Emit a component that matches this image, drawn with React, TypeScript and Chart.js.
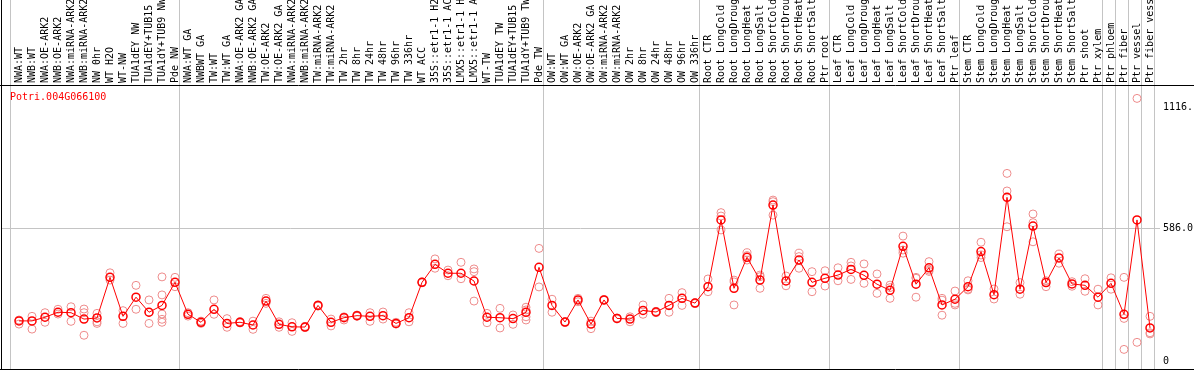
import React, { useEffect, useRef } from 'react';
import { Chart, registerables } from 'chart.js';

Chart.register(...registerables);

const geneId = 'Potri.004G066100';

const categories: string[] = [
  'NWA:WT', 'NWB:WT', 'NWA:OE-ARK2', 'NWB:OE-ARK2', 'NWA:miRNA-ARK2', 'NWB:miRNA-ARK2',
  'NW 0hr', 'WT H2O', 'WT-NW', 'TUA1dEY NW', 'TUA1dEY+TUB15 NW', 'TUA1dY+TUB9 NW', 'Pde NW',
  'NWA:WT GA', 'NWBWT GA', 'TW:WT', 'TW:WT GA', 'NWA:OE-ARK2 GA', 'NWB:OE-ARK2 GA',
  'TW:OE-ARK2', 'TW:OE-ARK2 GA', 'NWA:miRNA-ARK2 GA', 'NWB:miRNA-ARK2 GA', 'TW:miRNA-ARK2',
  'TW:miRNA-ARK2 GA', 'TW 2hr', 'TW 8hr', 'TW 24hr', 'TW 48hr', 'TW 96hr', 'TW 336hr', 'WT ACC',
  '35S::etr1-1 H2O', '35S::etr1-1 ACC', 'LMX5::etr1-1 H2O', 'LMX5::etr1-1 ACC', 'WT-TW',
  'TUA1dEY TW', 'TUA1dEY+TUB15 TW', 'TUA1dY+TUB9 TW', 'Pde TW',
  'OW:WT', 'OW:WT GA', 'OW:OE-ARK2', 'OW:OE-ARK2 GA', 'OW:miRNA-ARK2', 'OW:miRNA-ARK2 GA',
  'OW 2hr', 'OW 8hr', 'OW 24hr', 'OW 48hr', 'OW 96hr', 'OW 336hr',
  'Root CTR', 'Root LongCold', 'Root LongDrought', 'Root LongHeat', 'Root LongSalt',
  'Root ShortCold', 'Root ShortDrought', 'Root ShortHeat', 'Root ShortSalt', 'Ptr root',
  'Leaf CTR', 'Leaf LongCold', 'Leaf LongDrought', 'Leaf LongHeat', 'Leaf LongSalt',
  'Leaf ShortCold', 'Leaf ShortDrought', 'Leaf ShortHeat', 'Leaf ShortSalt', 'Ptr leaf',
  'Stem CTR', 'Stem LongCold', 'Stem LongDrought', 'Stem LongHeat', 'Stem LongSalt',
  'Stem ShortCold', 'Stem ShortDrought', 'Stem ShortHeat', 'Stem ShortSalt', 'Ptr shoot',
  'Ptr xylem', 'Ptr phloem', 'Ptr fiber', 'Ptr vessel', 'Ptr fiber vessel',
];

const meanValues: number[] = [
  179, 179, 195, 217, 215, 187, 192, 370, 199, 283, 217, 247, 348,
  208, 173, 230, 168, 173, 161, 266, 164, 153, 152, 247, 173, 193, 202, 199, 202, 168, 193, 348,
  427, 388, 388, 354, 195, 193, 189, 217, 414,
  247, 174, 271, 165, 271, 190, 187, 225, 218, 247, 278, 257,
  329, 622, 322, 458, 358, 687, 354, 446, 348, 366,
  380, 405, 379, 340, 313, 506, 340, 412, 249, 274,
  329, 483, 294, 721, 318, 595, 347, 455, 341, 335, 283,
  344, 208, 622, 148,
];

const replicateValues: number[][] = [
  [183, 165], [199, 143], [215, 173], [230, 209], [241, 177], [231, 215, 116], [212, 175, 168],
  [390, 358], [224, 168], [335, 230], [271, 168, 217], [372, 293, 209, 186, 173], [370, 329],
  [215, 200], [178, 168], [271, 208], [189, 151], [176, 170], [178, 142], [278, 256], [175, 151],
  [171, 133], [155, 150], [250, 244], [187, 157], [197, 183], [205, 199], [215, 177], [218, 187],
  [173, 165], [215, 175], [350, 346], [451, 410], [402, 377], [436, 364], [407, 395, 266],
  [212, 171], [234, 148], [205, 164], [239, 227, 197, 183], [497, 328],
  [274, 217], [176, 172], [278, 263], [178, 145], [273, 269], [192, 188], [197, 175], [249, 208],
  [221, 215], [278, 217], [303, 247], [259, 255],
  [363, 307], [654, 639, 578], [358, 350, 249], [478, 465, 446], [380, 373, 322], [709, 702, 643],
  [376, 333], [476, 461, 410], [395, 307], [399, 332],
  [412, 355], [436, 420, 361], [429, 344], [385, 300], [336, 325, 278], [551, 490, 476],
  [370, 366, 283], [439, 402, 396], [278, 270, 204], [310, 256, 249],
  [355, 315, 318], [524, 468, 457], [319, 275], [826, 749, 592], [347, 296], [648, 610, 526],
  [355, 329], [472, 432], [351, 331], [364, 309], [318, 249],
  [368, 318], [370, 190, 54], [1155, 85], [199, 127, 122],
];

// category indices where a vertical group separator is drawn (before that category)
const groupBoundaries: number[] = [0, 13, 41, 53, 63, 73, 84, 85, 86, 87, 88];

const yTickValues: number[] = [0, 586, 1116];
const yTickLabels: string[] = ['0', '586.0', '1116.'];

const MONO = '"DejaVu Sans Mono", "Liberation Mono", monospace';
const GRID = '#c4c4c4';
const BOUNDARY_SHIFT = 0.638;

const framePlugin = {
  id: 'frame',
  beforeDatasetsDraw(chart: any) {
    const { ctx, chartArea, width } = chart;
    ctx.save();
    ctx.strokeStyle = '#000';
    ctx.lineWidth = 1;
    ctx.beginPath();
    ctx.moveTo(0, chartArea.top + 0.5);
    ctx.lineTo(width, chartArea.top + 0.5);
    ctx.moveTo(0, chartArea.bottom + 0.5);
    ctx.lineTo(width, chartArea.bottom + 0.5);
    ctx.moveTo(chartArea.left + 0.5, 0);
    ctx.lineTo(chartArea.left + 0.5, chartArea.bottom);
    ctx.stroke();
    ctx.fillStyle = '#ff0000';
    ctx.font = '10px ' + MONO;
    ctx.textBaseline = 'middle';
    ctx.textAlign = 'left';
    ctx.fillText(geneId, chartArea.left + 9, chartArea.top + 12);
    ctx.restore();
  },
};

export default function App() {
  const canvasRef = useRef<HTMLCanvasElement | null>(null);

  useEffect(() => {
    document.body.style.margin = '0';
    const canvas = canvasRef.current;
    if (!canvas) return;

    const meanPoints = meanValues.map((v, i) => ({ x: i, y: v }));
    const repPoints: { x: number; y: number }[] = [];
    replicateValues.forEach((reps, i) => reps.forEach((v) => repPoints.push({ x: i, y: v })));

    const isBoundary = (val: number) => !Number.isInteger(val);
    const gridColor = (ctx: any) => (ctx.tick && isBoundary(ctx.tick.value) ? GRID : 'rgba(0,0,0,0)');

    const chart = new Chart(canvas, {
      type: 'line',
      data: {
        datasets: [
          {
            label: 'mean',
            data: meanPoints,
            borderColor: '#ff0000',
            borderWidth: 1,
            pointRadius: 4,
            pointBorderWidth: 1.5,
            pointBorderColor: '#ff0000',
            pointBackgroundColor: 'rgba(0,0,0,0)',
            tension: 0,
            fill: false,
            clip: false,
          },
          {
            label: 'replicates',
            data: repPoints,
            showLine: false,
            pointRadius: 4,
            pointBorderWidth: 1,
            pointBorderColor: 'rgb(238,140,140)',
            pointBackgroundColor: 'rgba(0,0,0,0)',
            clip: false,
          },
        ],
      },
      options: {
        animation: false,
        responsive: false,
        devicePixelRatio: 1,
        layout: { autoPadding: false, padding: { left: 1, right: 0, top: 0, bottom: 1 } },
        plugins: { legend: { display: false }, tooltip: { enabled: false }, title: { display: false } },
        events: [],
        scales: {
          x: {
            type: 'linear',
            position: 'top',
            min: -18 / 13,
            max: 1141 / 13,
            afterBuildTicks: (scale: any) => {
              const t = categories.map((_, i) => ({ value: i }));
              groupBoundaries.forEach((b) => t.push({ value: b - BOUNDARY_SHIFT }));
              t.sort((a, b) => a.value - b.value);
              scale.ticks = t;
            },
            afterFit: (scale: any) => {
              scale.height = 85;
              scale.paddingLeft = 0;
              scale.paddingRight = 0;
              scale.paddingTop = 0;
              scale.paddingBottom = 0;
            },
            ticks: {
              autoSkip: false,
              minRotation: 90,
              maxRotation: 90,
              padding: -83,
              labelOffset: 12,
              color: '#000',
              font: { family: MONO, size: 10 },
              callback: (_v: any, index: number, ticks: any[]) => {
                const val = ticks[index].value;
                return Number.isInteger(val) ? categories[val] : '';
              },
            },
            grid: {
              color: gridColor,
              tickColor: gridColor,
              drawTicks: true,
              tickLength: 85,
              lineWidth: 1,
            },
            border: { display: false },
          },
          y: {
            type: 'linear',
            position: 'right',
            min: -32,
            max: 1213.8,
            afterBuildTicks: (scale: any) => {
              scale.ticks = yTickValues.map((v) => ({ value: v }));
            },
            afterFit: (scale: any) => {
              scale.width = 34;
              scale.paddingTop = 0;
              scale.paddingBottom = 0;
            },
            ticks: {
              padding: 3,
              color: '#000',
              font: { family: MONO, size: 10 },
              callback: (_v: any, index: number) => yTickLabels[index],
            },
            grid: {
              color: (ctx: any) => (ctx.tick && ctx.tick.value === 586 ? GRID : 'rgba(0,0,0,0)'),
              drawTicks: false,
              lineWidth: 1,
            },
            border: { display: false },
          },
        },
      },
      plugins: [framePlugin],
    } as any);

    return () => chart.destroy();
  }, []);

  return (
    <div style={{ width: 1194, height: 370 }}>
      <canvas ref={canvasRef} width={1194} height={370} style={{ display: 'block' }} />
    </div>
  );
}
